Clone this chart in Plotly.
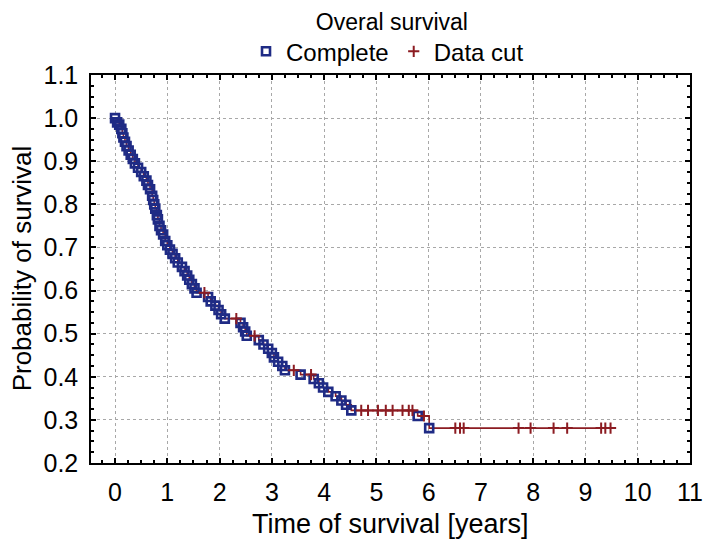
import plotly.graph_objects as go

# Kaplan-Meier estimate: event times (years) and survival after each event
event_t = [0.00, 0.04, 0.08, 0.12, 0.14, 0.16, 0.19, 0.22, 0.26, 0.30, 0.34, 0.38, 0.44, 0.50,
           0.55, 0.60, 0.63, 0.67, 0.71, 0.73, 0.75, 0.77, 0.80, 0.82, 0.85, 0.88, 0.92, 0.96,
           1.00, 1.05, 1.10, 1.15, 1.20, 1.28, 1.33, 1.38, 1.42, 1.47, 1.52, 1.56, 1.78, 1.83,
           1.92, 1.98, 2.03, 2.10, 2.40, 2.45, 2.49, 2.52, 2.75, 2.84, 2.93, 3.00, 3.04, 3.12,
           3.20, 3.25, 3.55, 3.80, 3.90, 3.98, 4.08, 4.22, 4.33, 4.42, 4.52, 5.79, 6.01]
event_s = [1.000, 0.990, 0.985, 0.975, 0.965, 0.955, 0.945, 0.935, 0.925, 0.915, 0.905, 0.895,
           0.885, 0.875, 0.865, 0.855, 0.845, 0.835, 0.820, 0.810, 0.800, 0.790, 0.775, 0.765,
           0.750, 0.740, 0.730, 0.715, 0.705, 0.695, 0.685, 0.675, 0.665, 0.655, 0.645, 0.635,
           0.625, 0.615, 0.605, 0.595, 0.585, 0.575, 0.565, 0.555, 0.545, 0.535, 0.525, 0.515,
           0.505, 0.495, 0.485, 0.475, 0.465, 0.455, 0.445, 0.435, 0.425, 0.415, 0.405, 0.395,
           0.385, 0.375, 0.365, 0.355, 0.345, 0.335, 0.322, 0.309, 0.281]

# censored observations ("Data cut")
cens_t = [1.71, 2.32, 2.67, 3.42, 3.75, 4.71, 4.84, 5.03, 5.18, 5.31, 5.50, 5.62, 5.69, 5.91,
          6.51, 6.60, 6.67, 7.72, 7.95, 8.39, 8.65, 9.30, 9.38, 9.48]
cens_s = [0.595, 0.535, 0.495, 0.415, 0.405, 0.322, 0.322, 0.322, 0.322, 0.322, 0.322, 0.322,
          0.322, 0.309, 0.281, 0.281, 0.281, 0.281, 0.281, 0.281, 0.281, 0.281, 0.281, 0.281]

x_ticks = list(range(0, 12))
y_ticks = [0.2, 0.3, 0.4, 0.5, 0.6, 0.7, 0.8, 0.9, 1.0, 1.1]

# step line through all points, sorted by time
pts = sorted(zip(event_t + cens_t, event_s + cens_s))
line_t = [p[0] for p in pts]
line_s = [p[1] for p in pts]

blue = '#1f2b85'
red = '#8c1c22'
font = 'Liberation Sans, Arial, sans-serif'

fig = go.Figure()
fig.add_trace(go.Scatter(x=line_t, y=line_s, mode='lines', line_shape='hv',
                         line=dict(color=red, width=1.6), showlegend=False, hoverinfo='skip'))
fig.add_trace(go.Scatter(x=event_t, y=event_s, mode='markers', name='Complete',
                         marker=dict(symbol='square-open', size=8, color=blue,
                                     line=dict(color=blue, width=2.6))))
fig.add_trace(go.Scatter(x=cens_t, y=cens_s, mode='markers', name='Data cut',
                         marker=dict(symbol='cross-thin-open', size=8, color=red,
                                     line=dict(color=red, width=2))))

axis_common = dict(showline=True, linecolor='black', linewidth=1.5, mirror='ticks',
                   ticks='inside', ticklen=5, tickcolor='black', tickwidth=1.5,
                   showgrid=True, gridcolor='#a8a8a8', griddash='dot', gridwidth=1,
                   zeroline=False, tickfont=dict(size=25, color='black', family=font))

# the page adds an 8px body margin, so the figure is 8px smaller than the window
fig.update_layout(
    width=707, height=538,
    margin=dict(l=83, r=22, t=67, b=83),
    paper_bgcolor='white', plot_bgcolor='white',
    font=dict(family=font, color='black'),
    title=dict(text='Overal survival', x=0.543, xanchor='center', yref='container', y=0.975,
               yanchor='middle', font=dict(size=23, color='black', family=font)),
    legend=dict(orientation='h', x=0.495, xanchor='center', y=1.06, yanchor='middle',
                font=dict(size=24, color='black', family=font), itemwidth=30,
                bgcolor='rgba(0,0,0,0)'),
    xaxis=dict(range=[-0.46, 11.0], tickvals=x_ticks, ticktext=[str(v) for v in x_ticks],
               minor=dict(dtick=0.25, ticks='inside', ticklen=3, tickcolor='black', showgrid=False),
               ticklabelstandoff=6, **axis_common),
    yaxis=dict(range=[0.2, 1.1], tickvals=y_ticks, ticktext=[f'{v:.1f}' for v in y_ticks],
               minor=dict(dtick=0.025, ticks='inside', ticklen=3, tickcolor='black', showgrid=False),
               ticklabelstandoff=6, **axis_common),
    annotations=[
        dict(text='Time of survival [years]', xref='paper', yref='paper', x=0.5, y=-0.157,
             xanchor='center', yanchor='middle', showarrow=False,
             font=dict(size=27, color='black', family=font)),
        dict(text='Probability of survival', xref='paper', yref='paper', x=-0.1146, y=0.5026,
             xanchor='center', yanchor='middle', showarrow=False, textangle=-90,
             font=dict(size=26, color='black', family=font)),
    ],
)

fig.write_html("out.html")
